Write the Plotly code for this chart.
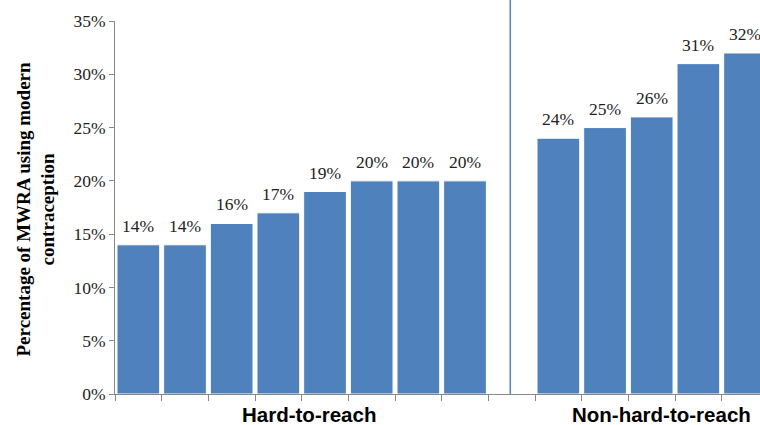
import plotly.graph_objects as go

hard_labels = ["H1", "H2", "H3", "H4", "H5", "H6", "H7", "H8"]
hard_values = [14, 14, 16, 17, 19, 20, 20, 20]
non_labels = ["N1", "N2", "N3", "N4", "N5"]
non_values = [24, 25, 26, 31, 32]
spacer_label = " "
group_names = ["Hard-to-reach", "Non-hard-to-reach"]
y_ticks = [0, 5, 10, 15, 20, 25, 30, 35]

cats = hard_labels + [spacer_label] + non_labels
vals = hard_values + [None] + non_values

BLUE = "#4F81BD"
SERIF = "Liberation Serif, Times New Roman, serif"
SANS = "Liberation Sans, Arial, sans-serif"

fig = go.Figure()
fig.add_trace(go.Bar(
    x=cats, y=vals,
    marker=dict(color=BLUE, line=dict(color="white", width=1)),
    showlegend=False,
))

for c, v in zip(cats, vals):
    if v is None:
        continue
    fig.add_annotation(x=c, y=v, xref="x", yref="y", text=f"{v}%",
                       showarrow=False, yanchor="middle", yshift=19,
                       font=dict(family=SERIF, size=17.5, color="#222"))

L, R, T, B = 115, 0, 21, 31
W, H = 760, 425
slot_px = 46.67
x_max = (W - L) / slot_px - 0.5

fig.update_layout(
    width=W, height=H,
    margin=dict(l=L, r=R, t=T, b=B),
    paper_bgcolor="white", plot_bgcolor="white",
    bargap=0.085,
    xaxis=dict(
        type="category", range=[-0.5, x_max], showticklabels=False,
        ticks="outside", tickson="boundaries", ticklen=6, tickcolor="#888",
        showline=True, linecolor="#888", linewidth=1, showgrid=False,
        zeroline=False,
    ),
    yaxis=dict(
        range=[0, 35], tickvals=y_ticks, ticktext=[f"{t}%" for t in y_ticks],
        ticks="outside", ticklen=5, tickcolor="#888",
        showline=True, linecolor="#888", linewidth=1, showgrid=False,
        zeroline=False, tickfont=dict(family=SERIF, size=17.5, color="#222"),
    ),
)

sep_x = len(hard_labels) - 0.03
fig.add_shape(type="line", xref="x", yref="paper", x0=sep_x, x1=sep_x,
              y0=0, y1=1.06, line=dict(color=BLUE, width=1.5))

hard_center = (len(hard_labels) - 1) / 2
non_center = len(hard_labels) + 1 + (len(non_labels) - 1) / 2
fig.add_annotation(x=hard_center, y=0, xref="x", yref="paper", yanchor="top",
                   yshift=-7, xshift=7, text=f"<b>{group_names[0]}</b>", showarrow=False,
                   font=dict(family=SANS, size=20.5, color="black"))
fig.add_annotation(x=non_center, y=0, xref="x", yref="paper", yanchor="top",
                   yshift=-7, xshift=10, text=f"<b>{group_names[1]}</b>", showarrow=False,
                   font=dict(family=SANS, size=20.5, color="black"))

fig.add_annotation(x=(35 - L) / (W - L - R), y=0.5, xref="paper", yref="paper",
                   xanchor="center", yanchor="middle", textangle=-90, yshift=-2,
                   text="<b>Percentage of MWRA using modern<br>contraception</b>",
                   showarrow=False,
                   font=dict(family=SERIF, size=19, color="black"))

fig.write_html("out.html")
